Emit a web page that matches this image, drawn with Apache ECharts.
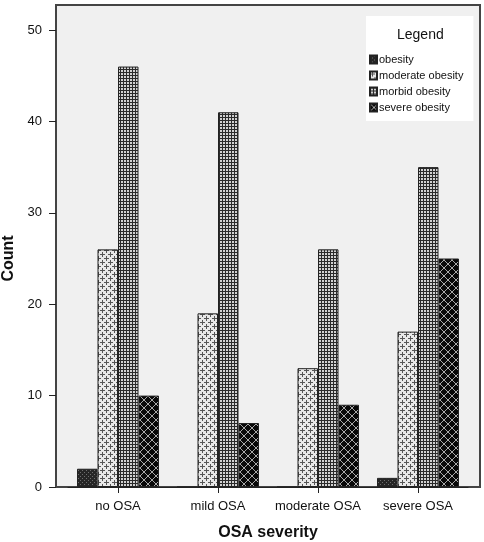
<!DOCTYPE html>
<html>
<head>
<meta charset="utf-8">
<script src="https://cdn.jsdelivr.net/npm/echarts@6/dist/echarts.min.js"></script>
<style>html,body{margin:0;padding:0;background:#fff;}#c{width:484px;height:542px;}</style>
</head>
<body>
<div id="c"></div>
<script>
var categories = ['no OSA', 'mild OSA', 'moderate OSA', 'severe OSA'];
var seriesNames = ['obesity', 'moderate obesity', 'morbid obesity', 'severe obesity'];
var obesity = [2, 0, 0, 1];
var moderateObesity = [26, 19, 13, 17];
var morbidObesity = [46, 41, 26, 35];
var severeObesity = [10, 7, 9, 25];
var yTicks = [0, 10, 20, 30, 40, 50];

function makePattern(w, h, draw) {
  var c = document.createElement('canvas');
  c.width = w; c.height = h;
  var ctx = c.getContext('2d');
  draw(ctx);
  return { image: c, repeat: 'repeat' };
}
var pObesity = makePattern(4, 4, function (ctx) {
  ctx.fillStyle = '#262626'; ctx.fillRect(0, 0, 4, 4);
  ctx.fillStyle = '#6e6e6e'; ctx.fillRect(0, 0, 1, 1); ctx.fillRect(2, 2, 1, 1);
});
var pModerate = makePattern(8, 8, function (ctx) {
  ctx.fillStyle = '#e8e8e8'; ctx.fillRect(0, 0, 8, 8);
  ctx.fillStyle = '#555';
  ctx.fillRect(0, 2, 5, 1); ctx.fillRect(2, 0, 1, 5);
  ctx.fillRect(4, 6, 4, 1); ctx.fillRect(0, 6, 1, 1); ctx.fillRect(6, 4, 1, 4); ctx.fillRect(6, 0, 1, 1);
});
var pMorbid = makePattern(3, 3, function (ctx) {
  ctx.fillStyle = '#d2d2d2'; ctx.fillRect(0, 0, 3, 3);
  ctx.fillStyle = '#2a2a2a'; ctx.fillRect(0, 0, 3, 1); ctx.fillRect(0, 0, 1, 3);
});
var pSevere = makePattern(8, 8, function (ctx) {
  ctx.fillStyle = '#080808'; ctx.fillRect(0, 0, 8, 8);
  ctx.strokeStyle = '#a8a8a8'; ctx.lineWidth = 1;
  ctx.beginPath();
  ctx.moveTo(0, 0); ctx.lineTo(8, 8);
  ctx.moveTo(8, 0); ctx.lineTo(0, 8);
  ctx.stroke();
});
var patterns = [pObesity, pModerate, pMorbid, pSevere];
var values = [obesity, moderateObesity, morbidObesity, severeObesity];

var font = 'Liberation Sans, Arial, Helvetica, sans-serif';
var chart = echarts.init(document.getElementById('c'), null, { renderer: 'canvas' });
var series = seriesNames.map(function (n, i) {
  return {
    name: n, type: 'bar', data: values[i], z: 5,
    barGap: '0%', barCategoryGap: '18%',
    itemStyle: { color: patterns[i], borderColor: '#222', borderWidth: 1 },
    emphasis: { disabled: true }
  };
});
chart.setOption({
  animation: false,
  backgroundColor: '#fff',
  textStyle: { fontFamily: font },
  graphic: [{
    type: 'rect', z: -10, silent: true,
    shape: { x: 56, y: 5, width: 424, height: 482 },
    style: { fill: '#f0f0f0', stroke: '#444', lineWidth: 2 }
  }],
  title: {
    text: 'Legend', left: 392, top: 23,
    textStyle: { fontFamily: font, fontSize: 14, fontWeight: 'normal', color: '#111' }
  },
  legend: {
    orient: 'vertical', left: 366, top: 16,
    padding: [38, 10, 8, 3],
    backgroundColor: '#fff',
    itemWidth: 7, itemHeight: 8, itemGap: 5,
    icon: 'rect',
    selectedMode: false,
    textStyle: { fontFamily: font, fontSize: 11, color: '#111', padding: [0, 0, 0, -3] },
    data: seriesNames
  },
  grid: { left: 68, right: 16, top: 30, bottom: 55, outerBoundsMode: 'none', containLabel: false },
  xAxis: {
    type: 'category', data: categories,
    axisLine: { show: true, lineStyle: { color: '#222', width: 1 } },
    axisTick: { show: true, alignWithLabel: true, length: 6, lineStyle: { color: '#222' } },
    axisLabel: { fontFamily: font, fontSize: 13, color: '#111', margin: 13, interval: 0, hideOverlap: false },
    name: 'OSA severity', nameLocation: 'middle', nameGap: 38,
    nameTextStyle: { fontFamily: font, fontSize: 16, fontWeight: 'bold', color: '#111' }
  },
  yAxis: {
    type: 'value', min: 0, max: 50, interval: 10, offset: 12,
    axisLine: { show: true, lineStyle: { color: '#444', width: 2 } },
    axisTick: { show: true, length: 7, lineStyle: { color: '#222' } },
    splitLine: { show: false },
    axisLabel: { fontFamily: font, fontSize: 13, color: '#111', margin: 14,
      formatter: function (v) { return yTicks.indexOf(v) >= 0 ? String(v) : ''; } },
    name: 'Count', nameLocation: 'middle', nameGap: 38, nameRotate: 90,
    nameTextStyle: { fontFamily: font, fontSize: 16, fontWeight: 'bold', color: '#111' }
  },
  series: series
});
</script>
</body>
</html>
